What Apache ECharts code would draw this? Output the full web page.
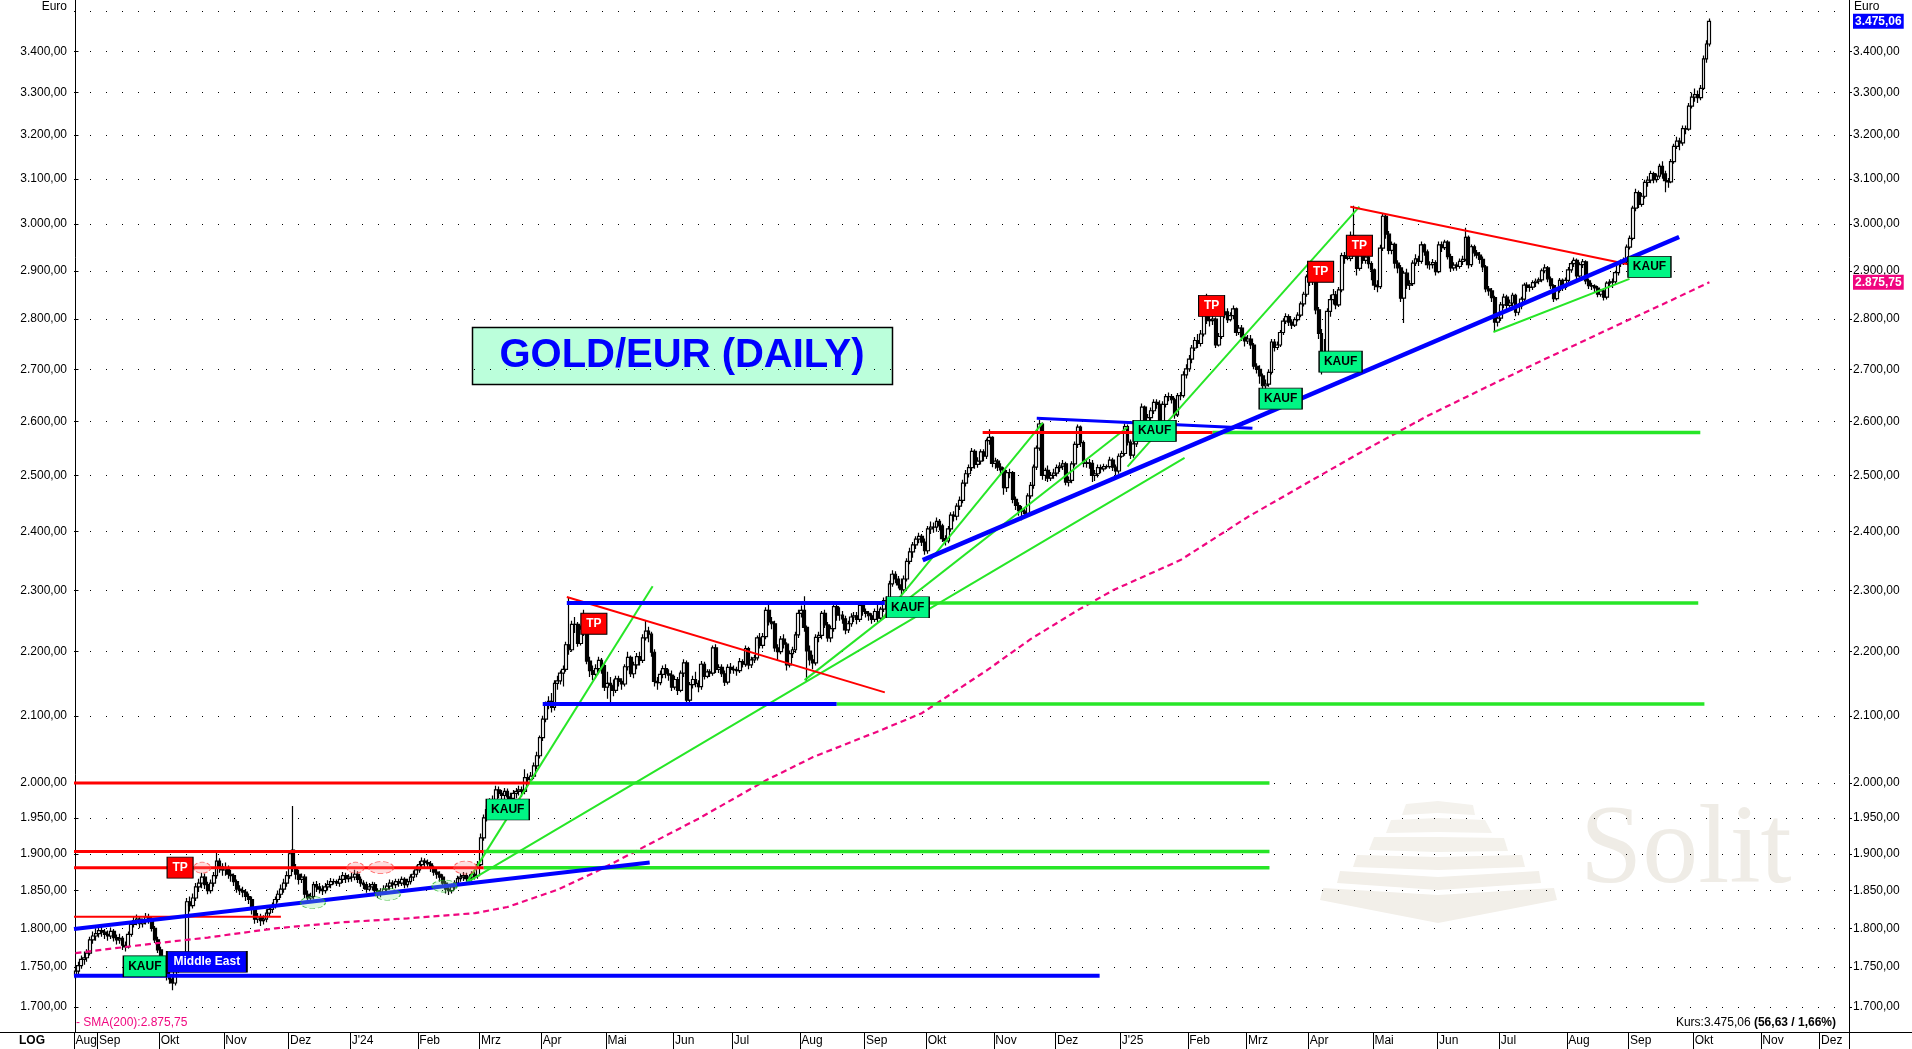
<!DOCTYPE html>
<html><head><meta charset="utf-8">
<script src="https://cdn.jsdelivr.net/npm/echarts@6/dist/echarts.min.js"></script>
<style>html,body{margin:0;padding:0;background:#fff;overflow:hidden}#c{width:1912px;height:1049px}</style>
</head><body><div id="c"></div>
<script>
// ---- daily OHLC, format [open, close, low, high] (EUR) ----
const aug23=[[1740,1745,1735,1752],[1745,1752,1741,1757],[1752,1760,1748,1765],[1760,1762,1753,1770],[1762,1768,1757,1773],[1768,1785,1765,1789],[1785,1790,1780,1796],[1790,1793,1784,1800]];
const sep23=[[1793,1797,1788,1803],[1797,1795,1789,1802],[1795,1792,1786,1799],[1792,1790,1784,1797],[1790,1796,1786,1801],[1796,1788,1783,1799],[1788,1785,1779,1792],[1785,1787,1780,1793],[1787,1778,1772,1790],[1778,1776,1770,1783],[1776,1792,1774,1796],[1792,1805,1789,1809],[1805,1810,1801,1815],[1810,1812,1804,1818],[1812,1806,1800,1815],[1806,1809,1801,1813],[1809,1815,1805,1820],[1815,1812,1806,1819],[1812,1800,1796,1815],[1800,1785,1781,1803],[1785,1772,1768,1789]];
const oct23=[[1772,1755,1750,1776],[1755,1745,1740,1760],[1745,1740,1733,1750],[1740,1735,1729,1744],[1735,1730,1721,1741],[1730,1748,1727,1752],[1748,1752,1743,1757],[1752,1758,1747,1762],[1758,1750,1744,1763],[1750,1835,1748,1840],[1835,1830,1822,1842],[1830,1840,1826,1846],[1840,1855,1836,1860],[1855,1860,1848,1866],[1860,1868,1853,1874],[1868,1858,1852,1873],[1858,1850,1845,1862],[1850,1860,1846,1865],[1860,1870,1855,1875],[1870,1890,1866,1903],[1890,1882,1874,1894],[1882,1878,1870,1887]];
const nov23=[[1878,1880,1870,1888],[1880,1872,1866,1884],[1872,1870,1862,1878],[1870,1862,1856,1873],[1862,1852,1847,1865],[1852,1850,1844,1857],[1850,1848,1841,1855],[1848,1842,1836,1852],[1842,1838,1832,1846],[1838,1825,1818,1842],[1825,1812,1806,1828],[1812,1815,1807,1820],[1815,1810,1803,1819],[1810,1812,1805,1817],[1812,1820,1808,1825],[1820,1825,1815,1830],[1825,1830,1820,1834],[1830,1838,1826,1842],[1838,1845,1834,1850],[1845,1852,1840,1858],[1852,1860,1847,1866],[1860,1870,1855,1876]];
const dec23=[[1870,1900,1866,1905],[1905,1880,1875,1967],[1880,1872,1865,1886],[1872,1865,1858,1878],[1865,1868,1860,1873],[1868,1845,1840,1872],[1845,1840,1834,1850],[1840,1842,1836,1847],[1842,1858,1838,1862],[1858,1855,1848,1863],[1855,1852,1846,1860],[1852,1850,1844,1857],[1850,1855,1846,1860],[1855,1858,1850,1864],[1858,1862,1853,1867],[1862,1862,1858,1866],[1862,1860,1856,1865],[1860,1865,1855,1870],[1865,1870,1860,1875],[1870,1866,1860,1874],[1866,1868,1861,1872]];
const jan24=[[1868,1868,1862,1874],[1868,1872,1864,1878],[1872,1865,1860,1876],[1865,1860,1855,1869],[1860,1858,1852,1864],[1858,1852,1847,1862],[1852,1855,1849,1860],[1855,1858,1850,1862],[1858,1850,1844,1861],[1850,1846,1840,1853],[1846,1848,1841,1853],[1848,1852,1844,1857],[1852,1856,1848,1860],[1856,1860,1851,1865],[1860,1858,1852,1864],[1858,1862,1853,1866],[1862,1860,1855,1866],[1860,1865,1856,1869],[1865,1858,1853,1868],[1858,1862,1854,1866],[1862,1868,1858,1872],[1868,1872,1863,1877],[1872,1878,1868,1884]];
const feb24=[[1878,1885,1874,1890],[1885,1890,1880,1895],[1890,1888,1882,1894],[1888,1886,1880,1892],[1886,1880,1875,1890],[1880,1875,1870,1884],[1875,1872,1866,1879],[1872,1868,1862,1876],[1868,1860,1855,1872],[1860,1852,1846,1863],[1852,1850,1844,1856],[1850,1855,1846,1859],[1855,1860,1851,1864],[1860,1866,1856,1870],[1866,1868,1862,1873],[1868,1870,1863,1875],[1870,1866,1861,1874],[1866,1868,1862,1872],[1868,1872,1863,1876],[1872,1870,1865,1876],[1870,1885,1866,1890]];
const mar24=[[1885,1922,1883,1928],[1922,1950,1918,1955],[1950,1962,1945,1968],[1962,1972,1955,1978],[1972,1975,1965,1982],[1975,1990,1970,1996],[1990,1985,1978,1995],[1985,1982,1975,1990],[1982,1988,1976,1993],[1988,1980,1974,1992],[1980,1978,1971,1986],[1978,1985,1973,1990],[1985,1988,1978,1993],[1988,1990,1982,1996],[1990,1988,1980,1995],[1988,2008,1984,2020],[2008,2005,1998,2014],[2005,2010,2000,2016],[2010,2025,2006,2030],[2025,2040,2020,2046],[2040,2067,2036,2070]];
const apr24=[[2067,2095,2062,2100],[2095,2117,2090,2122],[2117,2122,2110,2130],[2122,2113,2105,2135],[2113,2150,2108,2155],[2150,2154,2140,2162],[2154,2166,2148,2170],[2166,2172,2145,2178],[2172,2211,2168,2216],[2211,2203,2195,2289],[2203,2244,2200,2250],[2244,2244,2230,2256],[2244,2213,2208,2248],[2213,2236,2210,2242],[2236,2243,2225,2268],[2243,2185,2180,2246],[2185,2170,2160,2192],[2170,2164,2155,2178],[2164,2173,2158,2180],[2173,2186,2168,2192],[2186,2178,2165,2190],[2178,2144,2138,2182]];
const may24=[[2144,2150,2126,2168],[2150,2147,2115,2160],[2147,2139,2130,2156],[2139,2157,2135,2162],[2157,2153,2145,2162],[2153,2149,2140,2158],[2149,2176,2145,2180],[2176,2191,2170,2200],[2191,2165,2160,2194],[2165,2179,2158,2184],[2179,2192,2172,2198],[2192,2186,2178,2200],[2186,2222,2182,2228],[2222,2233,2218,2250],[2233,2228,2215,2240],[2228,2199,2192,2232],[2199,2153,2145,2204],[2153,2151,2140,2160],[2151,2164,2147,2170],[2164,2173,2158,2178],[2173,2165,2158,2180],[2165,2163,2154,2172],[2163,2144,2138,2170]];
const jun24=[[2144,2156,2140,2162],[2156,2139,2132,2160],[2139,2166,2136,2170],[2166,2182,2160,2188],[2182,2124,2118,2186],[2124,2148,2120,2152],[2148,2156,2142,2162],[2156,2150,2144,2168],[2150,2145,2136,2155],[2145,2180,2140,2185],[2180,2161,2156,2184],[2161,2168,2158,2172],[2168,2166,2160,2172],[2166,2206,2162,2210],[2206,2172,2166,2212],[2172,2175,2166,2180],[2175,2165,2160,2180],[2165,2152,2146,2170],[2152,2175,2148,2180],[2175,2172,2165,2182]];
const jul24=[[2172,2171,2165,2178],[2171,2170,2162,2176],[2170,2184,2166,2190],[2184,2180,2175,2188],[2180,2205,2176,2210],[2205,2179,2172,2208],[2179,2187,2174,2192],[2187,2190,2182,2195],[2190,2222,2186,2226],[2222,2210,2205,2230],[2210,2224,2205,2230],[2224,2267,2220,2272],[2267,2248,2242,2278],[2248,2245,2236,2256],[2245,2206,2200,2250],[2206,2200,2185,2212],[2200,2220,2196,2225],[2220,2212,2205,2228],[2212,2179,2170,2215],[2179,2197,2175,2202],[2197,2203,2190,2208],[2203,2227,2198,2232],[2227,2262,2222,2268]];
const aug24=[[2262,2267,2255,2275],[2267,2239,2232,2290],[2239,2201,2154,2242],[2201,2187,2178,2210],[2187,2182,2172,2195],[2182,2223,2178,2228],[2223,2226,2215,2232],[2226,2262,2220,2266],[2262,2243,2238,2268],[2243,2222,2216,2248],[2222,2237,2215,2242],[2237,2273,2232,2278],[2273,2259,2250,2278],[2259,2259,2250,2272],[2259,2253,2245,2266],[2253,2235,2228,2258],[2235,2245,2230,2250],[2245,2256,2240,2262],[2256,2258,2248,2264],[2258,2252,2244,2264],[2252,2275,2248,2280],[2275,2265,2258,2280]];
const sep24=[[2265,2262,2255,2270],[2262,2258,2250,2266],[2258,2252,2245,2262],[2252,2265,2248,2270],[2265,2254,2248,2276],[2254,2269,2250,2273],[2269,2283,2264,2288],[2283,2282,2266,2290],[2282,2311,2278,2316],[2311,2327,2306,2334],[2327,2319,2312,2332],[2319,2309,2303,2324],[2309,2301,2290,2320],[2301,2319,2296,2325],[2319,2349,2315,2354],[2349,2365,2344,2372],[2365,2377,2355,2382],[2377,2387,2370,2392],[2387,2392,2380,2398],[2392,2382,2375,2396],[2382,2367,2360,2388]];
const oct24=[[2367,2405,2362,2410],[2405,2408,2396,2418],[2408,2408,2398,2416],[2408,2418,2400,2425],[2418,2410,2402,2422],[2410,2388,2382,2414],[2388,2384,2376,2394],[2384,2405,2380,2410],[2405,2429,2400,2434],[2429,2427,2418,2436],[2427,2445,2420,2450],[2445,2455,2438,2462],[2455,2486,2450,2492],[2486,2503,2480,2510],[2503,2514,2496,2520],[2514,2544,2508,2550],[2544,2520,2512,2548],[2520,2526,2514,2533],[2526,2543,2520,2548],[2543,2535,2526,2548],[2535,2564,2530,2568],[2564,2570,2556,2585],[2570,2522,2515,2572]];
const nov24=[[2522,2526,2512,2532],[2526,2515,2508,2530],[2515,2510,2500,2522],[2510,2478,2465,2515],[2478,2505,2470,2510],[2505,2505,2495,2512],[2505,2457,2450,2508],[2457,2446,2438,2462],[2446,2437,2428,2452],[2437,2436,2420,2445],[2436,2432,2424,2442],[2432,2463,2428,2468],[2463,2482,2458,2488],[2482,2515,2476,2520],[2515,2550,2510,2555],[2550,2595,2545,2603],[2595,2500,2492,2598],[2500,2509,2490,2514],[2509,2495,2488,2518],[2495,2500,2490,2506],[2500,2504,2494,2512]];
const dec24=[[2504,2514,2498,2520],[2514,2517,2506,2524],[2517,2521,2510,2528],[2521,2488,2482,2525],[2488,2491,2480,2498],[2491,2521,2486,2526],[2521,2557,2516,2562],[2557,2589,2550,2594],[2589,2560,2552,2592],[2560,2522,2515,2564],[2522,2523,2514,2530],[2523,2522,2512,2530],[2522,2500,2488,2528],[2500,2503,2490,2510],[2503,2514,2496,2520],[2514,2512,2504,2520],[2512,2516,2507,2521],[2516,2516,2512,2520],[2516,2528,2512,2534],[2528,2515,2508,2532],[2515,2508,2500,2520],[2508,2535,2503,2540]];
const jan25=[[2535,2540,2532,2545],[2540,2590,2536,2596],[2590,2561,2555,2594],[2561,2537,2530,2566],[2537,2558,2532,2564],[2558,2582,2552,2586],[2582,2592,2575,2598],[2592,2627,2588,2634],[2627,2600,2594,2630],[2600,2607,2596,2614],[2607,2620,2600,2626],[2620,2636,2614,2642],[2636,2632,2624,2642],[2632,2599,2594,2640],[2599,2632,2596,2638],[2632,2647,2626,2652],[2647,2647,2638,2655],[2647,2641,2634,2652],[2641,2612,2605,2645],[2612,2649,2608,2654],[2649,2649,2640,2656],[2649,2689,2645,2696],[2689,2701,2682,2710]];
const feb25=[[2701,2720,2695,2728],[2720,2742,2712,2748],[2742,2757,2736,2764],[2757,2751,2742,2770],[2751,2770,2745,2778],[2770,2820,2765,2826],[2820,2797,2790,2852],[2797,2797,2785,2806],[2797,2800,2788,2810],[2800,2748,2742,2804],[2748,2765,2745,2772],[2765,2809,2760,2815],[2809,2815,2802,2822],[2815,2799,2792,2822],[2799,2807,2795,2814],[2807,2821,2800,2828],[2821,2773,2766,2824],[2773,2782,2768,2788],[2782,2764,2756,2788],[2764,2756,2745,2770]];
const mar25=[[2756,2760,2750,2768],[2760,2748,2740,2768],[2748,2706,2700,2752],[2706,2700,2692,2712],[2700,2687,2672,2708],[2687,2668,2650,2692],[2668,2671,2655,2680],[2671,2694,2666,2700],[2694,2754,2690,2760],[2754,2743,2735,2760],[2743,2748,2738,2755],[2748,2773,2744,2778],[2773,2796,2768,2802],[2796,2805,2790,2812],[2805,2794,2786,2810],[2794,2788,2780,2800],[2788,2799,2784,2804],[2799,2808,2795,2814],[2808,2831,2804,2836],[2831,2851,2826,2856],[2851,2887,2846,2892]];
const apr25=[[2887,2885,2868,2895],[2885,2888,2870,2905],[2888,2819,2810,2900],[2819,2771,2760,2825],[2771,2727,2690,2780],[2727,2722,2705,2760],[2722,2816,2715,2822],[2816,2840,2805,2850],[2840,2850,2830,2862],[2850,2829,2820,2858],[2829,2860,2825,2866],[2860,2932,2855,2938],[2932,2926,2915,2940],[2926,2926,2922,2930],[2926,2975,2920,2984],[2975,2960,2930,3040],[2960,2905,2890,2965],[2905,2940,2900,2948],[2940,2922,2915,2946],[2922,2929,2915,2935],[2929,2915,2905,2935],[2915,2902,2880,2920]];
const may25=[[2902,2870,2860,2905],[2870,2867,2855,2880],[2867,2948,2862,2955],[2948,3017,2942,3024],[3017,2978,2968,3022],[2978,2943,2935,2985],[2943,2956,2935,2962],[2956,2916,2905,2960],[2916,2906,2895,2922],[2906,2843,2835,2912],[2843,2895,2792,2900],[2895,2870,2862,2904],[2870,2873,2860,2880],[2873,2916,2868,2922],[2916,2925,2910,2935],[2925,2920,2910,2932],[2920,2955,2915,2962],[2955,2940,2932,2958],[2940,2913,2905,2945],[2913,2913,2902,2920],[2913,2917,2905,2925],[2917,2898,2890,2922]];
const jun25=[[2898,2955,2895,2962],[2955,2949,2940,2962],[2949,2961,2944,2966],[2961,2930,2924,2965],[2930,2906,2898,2936],[2906,2912,2900,2918],[2912,2909,2900,2918],[2909,2920,2904,2926],[2920,2924,2912,2932],[2924,2971,2920,2992],[2971,2913,2905,2975],[2913,2951,2908,2956],[2951,2938,2930,2955],[2938,2933,2926,2944],[2933,2924,2915,2940],[2924,2908,2900,2930],[2908,2862,2855,2912],[2862,2858,2848,2868],[2858,2844,2835,2864],[2844,2794,2775,2848],[2794,2802,2785,2810]];
const jul25=[[2802,2829,2796,2835],[2829,2845,2822,2852],[2845,2828,2820,2850],[2828,2833,2824,2840],[2833,2849,2826,2854],[2849,2814,2806,2852],[2814,2827,2808,2832],[2827,2841,2820,2846],[2841,2870,2836,2875],[2870,2865,2856,2876],[2865,2866,2856,2872],[2866,2875,2860,2880],[2875,2878,2866,2884],[2878,2881,2872,2886],[2881,2900,2876,2905],[2900,2906,2895,2914],[2906,2883,2876,2910],[2883,2869,2862,2888],[2869,2842,2835,2872],[2842,2859,2838,2864],[2859,2880,2854,2885],[2880,2865,2858,2884],[2865,2880,2860,2886]];
const aug25=[[2880,2902,2875,2908],[2902,2915,2896,2920],[2915,2922,2908,2928],[2922,2889,2882,2926],[2889,2913,2884,2918],[2913,2919,2906,2925],[2919,2879,2872,2922],[2879,2869,2862,2884],[2869,2868,2860,2875],[2868,2864,2855,2872],[2864,2851,2845,2868],[2851,2858,2846,2862],[2858,2845,2838,2862],[2845,2874,2840,2878],[2874,2876,2866,2882],[2876,2877,2864,2884],[2877,2896,2872,2900],[2896,2915,2890,2920],[2915,2918,2908,2924],[2918,2920,2912,2928],[2920,2950,2916,2956]];
const sep25=[[2950,2969,2945,2975],[2969,3035,2965,3040],[3035,3069,3028,3078],[3069,3043,3035,3074],[3043,3061,3038,3068],[3061,3092,3056,3098],[3092,3097,3082,3106],[3097,3112,3090,3118],[3112,3098,3090,3116],[3098,3106,3092,3112],[3106,3128,3100,3134],[3128,3111,3100,3140],[3111,3096,3070,3118],[3096,3093,3080,3102],[3093,3139,3090,3145],[3139,3174,3134,3180],[3174,3186,3168,3196],[3186,3182,3165,3194],[3182,3215,3175,3222],[3215,3214,3202,3222],[3214,3268,3210,3275],[3268,3289,3262,3300]];
const oct25=[[3289,3295,3278,3310],[3295,3288,3275,3305],[3288,3310,3282,3318],[3310,3382,3306,3390],[3382,3418.43,3372,3428],[3418.43,3475.06,3412,3482]];

// ---- SMA(200) readings [tradingDayIndex, value] ----
const sma200=[[0,1768],[26,1780],[45,1788],[68,1800],[91,1808],[113,1813],[136,1820],[147,1828],[164,1851],[177,1875],[212,1949],[235,2004],[251,2038],[274,2078],[288,2104],[310,2170],[325,2220],[341,2267],[353,2300],[376,2351],[399,2426],[421,2492],[437,2541],[460,2610],[480,2665],[500,2720],[520,2775],[540,2830],[556,2875.75]];

// ---- axis ticks ----
const priceTicks=[1700,1750,1800,1850,1900,1950,2000,2100,2200,2300,2400,2500,2600,2700,2800,2900,3000,3100,3200,3300,3400];
const gridLevels=[1700,1750,1800,1850,1900,1950,2000,2100,2200,2300,2400,2500,2600,2700,2800,2900,3000,3100,3200,3300,3400,3500];
const monthNames=['Jan','Feb','Mrz','Apr','Mai','Jun','Jul','Aug','Sep','Okt','Nov','Dez'];

// ---- drawn lines [x1, price1, x2, price2] (x = trading-day index) ----
const blueLines=[[-0.5,1739,348.5,1739],[167.2,2279,275.4,2279],[159,2118,259,2118],[-0.5,1799,195.4,1888],[288.3,2351,545.7,2972],[327.1,2606,400.5,2587]];
const redLines=[[-0.5,2000,154.6,2000],[-0.5,1903,138.9,1903],[-0.5,1881,138.9,1881],[-0.5,1815,69.9,1815],[308.7,2579,386.9,2579],[167.2,2289,275.4,2136],[433.8,3038,528.7,2913]];
const greenHLines=[[154.6,2000,406.3,2000],[138.9,1903,406.3,1903],[138.9,1881,406.3,1881],[275.4,2279,552.2,2279],[259,2118,554.3,2118],[386.9,2579,552.9,2579]];
const greenTrends=[[133.2,1861,196.4,2307],[133.2,1861,377.4,2532],[248.1,2155,358.0,2589],[274.7,2254,329.1,2597],[358.0,2516,436.9,3038],[482.5,2774,528.8,2883]];

// ---- annotations [x, price] ----
const kaufPts=[[23.6,1751],[147.1,1962],[283.2,2272],[367.2,2582],[410.1,2643],[430.5,2715],[535.6,2908]];
const tpPts=[[35.6,1881],[176.4,2245],[386.6,2827],[423.7,2898],[436.9,2953]];
const middleEastPts=[[44.7,1757]];
const redRings=[[43.1,1881],[95.3,1881],[104.0,1881],[132.7,1881]];
const greenRings=[[80.8,1834],[106.3,1845],[125.6,1856]];

// ---- styles ----
const blueWidths=[4,4,4,4,4.5,3];
const redWidths=[3,3,3,2,3,2,2];
const redRingSizes=[[17,11],[17,11],[25,12],[23,13]];
const BLUE='#0000ff',RED='#ff0000',GREEN='#27e627',PINK='#f0067f',KAUFBG='#00f584';
const FONT='Arial, "Liberation Sans", sans-serif';

const ohlc=[].concat(aug23,sep23,oct23,nov23,dec23,jan24,feb24,mar24,apr24,may24,jun24,jul24,aug24,sep24,oct24,nov24,dec24,jan25,feb25,mar25,apr25,may25,jun25,jul25,aug25,sep25,oct25);

// trading-day categories (weekdays) from 22 Aug 2023
const NDAYS=604;
const dates=[];
for(let t=Date.UTC(2023,7,22);dates.length<NDAYS;t+=86400000){const d=new Date(t);const w=d.getUTCDay();if(w!==0&&w!==6)dates.push(d);}
const cats=dates.map(d=>d.toISOString().slice(0,10));
const monthStart=dates.map((d,i)=>i===0||d.getUTCMonth()!==dates[i-1].getUTCMonth());
function monthLabel(d){const m=d.getUTCMonth();return m===0?"J'"+String(d.getUTCFullYear()).slice(2):monthNames[m];}
function fmtDE(v){const s=(+v).toFixed(2).split('.');return s[0].replace(/\B(?=(\d{3})+(?!\d))/g,'.')+','+s[1];}

const lastClose=ohlc[ohlc.length-1][1];
const prevClose=ohlc[ohlc.length-2][1];
const smaLast=sma200[sma200.length-1][1];
const chg=lastClose-prevClose, pct=chg/prevClose*100;

function seg(list,color,widths,z){
  return list.map((s,i)=>({type:'line',xAxisIndex:1,yAxisIndex:0,data:[[s[0],s[1]],[s[2],s[3]]],symbol:'none',silent:true,z:z,
    lineStyle:{color:color,width:Array.isArray(widths)?widths[i]:widths,cap:'butt'}}));
}

const chart=echarts.init(document.getElementById('c'),null,{renderer:'canvas'});
const yBase={type:'log',logBase:10,min:1669.6,max:3529.3,
  axisLine:{show:true,lineStyle:{color:'#000',width:1}},
  splitLine:{show:false}};
const option={
  animation:false,
  backgroundColor:'#fff',
  grid:{left:74,right:63,top:0,bottom:17,containLabel:false},
  xAxis:[
    {type:'category',data:cats,boundaryGap:true,
     axisLine:{onZero:false,lineStyle:{color:'#000',width:1}},
     axisTick:{show:true,interval:(i)=>monthStart[i],length:17,lineStyle:{color:'#000',width:1}},
     axisLabel:{interval:(i)=>monthStart[i],formatter:(v,i)=>monthLabel(dates[i]),align:'left',margin:3,color:'#000',fontSize:12,fontFamily:FONT},
     splitLine:{show:false}},
    {type:'value',min:-0.5,max:NDAYS-0.5,show:false,gridIndex:0}
  ],
  yAxis:[
    Object.assign({},yBase,{position:'left',
      axisTick:{show:true,customValues:priceTicks,length:3,inside:true,lineStyle:{color:'#000'}},
      axisLabel:{customValues:priceTicks,formatter:(v)=>fmtDE(v),color:'#000',fontSize:12,fontFamily:FONT,margin:7}}),
    Object.assign({},yBase,{position:'right',
      axisTick:{show:true,customValues:priceTicks,length:3,lineStyle:{color:'#000'}},
      axisLabel:{customValues:priceTicks.concat([smaLast,lastClose]),margin:4,color:'#000',fontSize:12,fontFamily:FONT,
        formatter:(v)=>{if(Math.abs(v-lastClose)<0.05)return '{b|'+fmtDE(lastClose)+'}';if(Math.abs(v-smaLast)<0.05)return '{m|'+fmtDE(smaLast)+'}';return fmtDE(v);},
        rich:{b:{backgroundColor:BLUE,color:'#fff',fontWeight:'bold',fontSize:12,fontFamily:FONT,padding:[2,2,1,2]},
              m:{backgroundColor:PINK,color:'#fff',fontWeight:'bold',fontSize:12,fontFamily:FONT,padding:[2,2,1,2]}}}})
  ],
  graphic:[
    // watermark pyramid + text
    {type:'group',z:0,silent:true,children:[
      {type:'polygon',shape:{points:[[1406,804],[1438,801],[1473,805],[1475,815],[1438,813],[1402,815]]},style:{fill:'#f4f2ed'}},
      {type:'polygon',shape:{points:[[1391,820],[1438,818],[1485,820],[1492,833],[1438,832],[1386,833]]},style:{fill:'#f4f2ed'}},
      {type:'polygon',shape:{points:[[1374,837],[1438,837],[1504,838],[1508,851],[1438,852],[1369,850]]},style:{fill:'#f3f1eb'}},
      {type:'polygon',shape:{points:[[1357,855],[1438,857],[1522,855],[1525,867],[1438,870],[1353,867]]},style:{fill:'#f3f0ea'}},
      {type:'polygon',shape:{points:[[1340,871],[1438,877],[1539,871],[1541,883],[1438,890],[1337,883]]},style:{fill:'#f2efe9'}},
      {type:'polygon',shape:{points:[[1323,888],[1438,895],[1554,888],[1557,900],[1438,923],[1320,900]]},style:{fill:'#f2efe9'}},
      {type:'text',style:{x:1580,y:853,text:'Solit',font:'112px "Liberation Serif", "Times New Roman", serif',fill:'#efece6',verticalAlign:'middle'}}
    ]},
    // title box
    {type:'group',z:20,silent:true,children:[
      {type:'rect',shape:{x:472.5,y:327.5,width:420,height:57},style:{fill:'#bbffdb',stroke:'#000',lineWidth:1.5}},
      {type:'text',style:{x:682,y:356,text:'GOLD/EUR (DAILY)',font:'bold 40px '+FONT,fill:'#0000ff',align:'center',verticalAlign:'middle'}}
    ]},
    {type:'text',z:20,silent:true,style:{x:67,y:1,text:'Euro',font:'12px '+FONT,fill:'#000',align:'right',verticalAlign:'top'}},
    {type:'text',z:20,silent:true,style:{x:1854,y:1,text:'Euro',font:'12px '+FONT,fill:'#000',align:'left',verticalAlign:'top'}},
    {type:'text',z:20,silent:true,style:{x:76,y:1023,text:'- SMA(200):'+fmtDE(smaLast),font:'12px '+FONT,fill:PINK,align:'left',verticalAlign:'middle'}},
    {type:'text',z:20,silent:true,style:{x:1836,y:1023,text:'{n|Kurs:'+fmtDE(lastClose)+' }{bd|('+fmtDE(chg)+' / '+fmtDE(pct)+'%)}',align:'right',verticalAlign:'middle',
      rich:{n:{font:'12px '+FONT,fill:'#000'},bd:{font:'bold 12px '+FONT,fill:'#000'}}}},
    {type:'text',z:20,silent:true,style:{x:19,y:1041,text:'LOG',font:'bold 12px '+FONT,fill:'#000',align:'left',verticalAlign:'middle'}},
    {type:'line',z:20,silent:true,shape:{x1:0,y1:1032.5,x2:1912,y2:1032.5},style:{stroke:'#000',lineWidth:1}},
    {type:'line',z:20,silent:true,shape:{x1:74.5,y1:1032,x2:74.5,y2:1049},style:{stroke:'#000',lineWidth:1}},
    {type:'line',z:20,silent:true,shape:{x1:1849.5,y1:1032,x2:1849.5,y2:1049},style:{stroke:'#000',lineWidth:1}}
  ],
  series:[
    {type:'line',data:[],z:1,silent:true,
     markLine:{silent:true,z:1,symbol:['none','none'],label:{show:false},animation:false,
       lineStyle:{color:'#000',type:[1,15],width:1},
       data:gridLevels.map(v=>({yAxis:v}))}},
    {type:'candlestick',name:'GOLD/EUR',data:ohlc,z:3,barWidth:3.4,
     itemStyle:{color:'#ffffff',color0:'#000000',borderColor:'#000000',borderColor0:'#000000',borderWidth:1.2}},
    {type:'line',xAxisIndex:1,yAxisIndex:0,data:sma200,symbol:'none',silent:true,z:4,
     lineStyle:{color:PINK,width:2.2,type:[6,4]}},
    ...seg(greenHLines,GREEN,3.5,5),
    ...seg(greenTrends,GREEN,2,5),
    ...seg(redLines,RED,redWidths,6),
    ...seg(blueLines,BLUE,blueWidths,7),
    {type:'scatter',xAxisIndex:1,yAxisIndex:0,data:redRings,z:8,silent:true,symbol:'circle',
     symbolSize:(v,p)=>redRingSizes[p.dataIndex],
     itemStyle:{color:'rgba(255,140,140,0.35)',borderColor:'#ff4040',borderWidth:1,borderType:'dashed'}},
    {type:'scatter',xAxisIndex:1,yAxisIndex:0,data:greenRings,z:8,silent:true,symbol:'circle',symbolSize:[25,12],
     itemStyle:{color:'rgba(140,240,140,0.35)',borderColor:'#20b020',borderWidth:1,borderType:'dashed'}},
    {type:'scatter',xAxisIndex:1,yAxisIndex:0,data:kaufPts,z:10,silent:true,symbol:'rect',symbolSize:[43,21],
     itemStyle:{color:KAUFBG,borderColor:'#000',borderWidth:1,opacity:1},
     label:{show:true,position:'inside',formatter:'KAUF',color:'#000',fontWeight:'bold',fontSize:12,fontFamily:FONT}},
    {type:'scatter',xAxisIndex:1,yAxisIndex:0,data:tpPts,z:10,silent:true,symbol:'rect',symbolSize:[26,21],
     itemStyle:{color:RED,borderColor:'#000',borderWidth:1,opacity:1},
     label:{show:true,position:'inside',formatter:'TP',color:'#fff',fontWeight:'bold',fontSize:12,fontFamily:FONT}},
    {type:'scatter',xAxisIndex:1,yAxisIndex:0,data:middleEastPts,z:10,silent:true,symbol:'rect',symbolSize:[80,21],
     itemStyle:{color:BLUE,borderColor:'#000',borderWidth:1,opacity:1},
     label:{show:true,position:'inside',formatter:'Middle East',color:'#fff',fontWeight:'bold',fontSize:12,fontFamily:FONT}}
  ]
};
chart.setOption(option);
</script>
</body></html>
